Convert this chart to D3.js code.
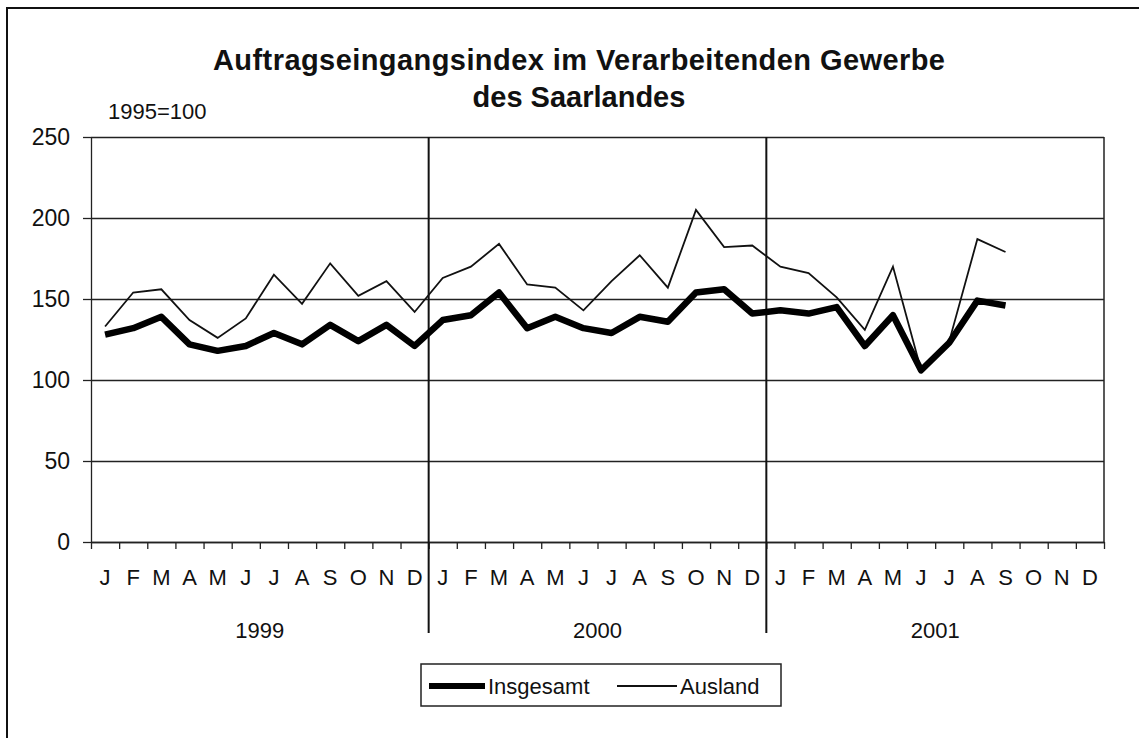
<!DOCTYPE html>
<html>
<head>
<meta charset="utf-8">
<script src="https://cdn.jsdelivr.net/npm/d3@7"></script>
<style>
  body { margin: 0; background: #fff; }
  text { font-family: "Liberation Sans", Arial, sans-serif; fill: #111; }
</style>
</head>
<body>
<div id="chart"></div>
<script>
// data
var months = ["J", "F", "M", "A", "M", "J", "J", "A", "S", "O", "N", "D"];
var years = ["1999", "2000", "2001"];
var yTicks = [0, 50, 100, 150, 200, 250];

// Jan 1999 .. Sep 2001
var insgesamt = [128, 132, 139, 122, 118, 121, 129, 122, 134, 124, 134, 121,
                 137, 140, 154, 132, 139, 132, 129, 139, 136, 154, 156, 141,
                 143, 141, 145, 121, 140, 106, 123, 149, 146];
var ausland = [133, 154, 156, 137, 126, 138, 165, 147, 172, 152, 161, 142,
               163, 170, 184, 159, 157, 143, 161, 177, 157, 205, 182, 183,
               170, 166, 151, 131, 170, 106, 124, 187, 179];

var svgWidth = 1139;
var svgHeight = 738;

var margin = { top: 137, right: 35, bottom: 196, left: 91 };
var width = svgWidth - margin.left - margin.right;
var height = svgHeight - margin.top - margin.bottom;

var svg = d3.select("#chart")
  .append("svg")
  .attr("width", svgWidth)
  .attr("height", svgHeight);

// outer frame (only top and left are in view)
svg.append("path")
  .attr("d", "M7,738 V8 H1139")
  .attr("fill", "none")
  .attr("stroke", "#111")
  .attr("stroke-width", 2);

// titles
svg.append("text")
  .attr("x", 579).attr("y", 70)
  .attr("text-anchor", "middle")
  .attr("font-size", "29px")
  .attr("font-weight", "700")
  .attr("textLength", 732)
  .text("Auftragseingangsindex im Verarbeitenden Gewerbe");

svg.append("text")
  .attr("x", 579).attr("y", 107)
  .attr("text-anchor", "middle")
  .attr("font-size", "29px")
  .attr("font-weight", "700")
  .text("des Saarlandes");

svg.append("text")
  .attr("x", 108).attr("y", 119)
  .attr("font-size", "22px")
  .text("1995=100");

var chartGroup = svg.append("g")
  .attr("transform", `translate(${margin.left}, ${margin.top})`);

// scales
var n = months.length * years.length;
var xBand = d3.scaleBand()
  .domain(d3.range(n))
  .range([0, width]);

var xEdge = d3.scaleLinear()
  .domain([0, n])
  .range([0, width]);

var yScale = d3.scaleLinear()
  .domain([0, 250])
  .range([height, 0]);

// horizontal grid
chartGroup.append("g")
  .attr("class", "grid")
  .call(d3.axisLeft(yScale).tickValues(yTicks).tickSize(-width).tickFormat(""))
  .call(g => g.select(".domain").remove())
  .call(g => g.selectAll("line").attr("stroke", "#222").attr("stroke-width", 1.3));

// y axis with labels
chartGroup.append("g")
  .call(d3.axisLeft(yScale).tickValues(yTicks).tickSize(8).tickSizeOuter(0).tickPadding(13))
  .call(g => g.select(".domain").attr("stroke", "#222").attr("stroke-width", 1.3))
  .call(g => g.selectAll("line").attr("stroke", "#222").attr("stroke-width", 1.3))
  .call(g => g.selectAll("text").attr("font-size", "23px")
    .attr("font-family", "Liberation Sans, Arial, sans-serif").attr("fill", "#111"));

// right border of plot
chartGroup.append("line")
  .attr("x1", width).attr("x2", width)
  .attr("y1", 0).attr("y2", height)
  .attr("stroke", "#222").attr("stroke-width", 1.5);

// month tick marks
chartGroup.append("g")
  .attr("transform", `translate(0, ${height})`)
  .call(d3.axisBottom(xEdge).tickValues(d3.range(n + 1)).tickSize(7).tickSizeOuter(0).tickFormat(""))
  .call(g => g.select(".domain").attr("stroke", "#222").attr("stroke-width", 1.3))
  .call(g => g.selectAll("line").attr("stroke", "#222").attr("stroke-width", 1.3));

// month labels
chartGroup.append("g")
  .attr("transform", `translate(0, ${height})`)
  .call(d3.axisBottom(xBand).tickSize(0).tickPadding(27).tickFormat(i => months[i % 12]))
  .call(g => g.select(".domain").remove())
  .call(g => g.selectAll("text").attr("font-size", "22px")
    .attr("font-family", "Liberation Sans, Arial, sans-serif").attr("fill", "#111"));

// year separators
chartGroup.selectAll(".sep")
  .data([12, 24])
  .enter()
  .append("line")
  .attr("x1", d => xEdge(d)).attr("x2", d => xEdge(d))
  .attr("y1", 0).attr("y2", height + 91)
  .attr("stroke", "#111").attr("stroke-width", 2);

// year labels
chartGroup.selectAll(".year")
  .data(years)
  .enter()
  .append("text")
  .attr("x", (d, i) => (xEdge(i * 12) + xEdge(i * 12 + 12)) / 2)
  .attr("y", height + 96)
  .attr("text-anchor", "middle")
  .attr("font-size", "22px")
  .text(d => d);

// lines
var line = d3.line()
  .x((d, i) => xBand(i) + xBand.bandwidth() / 2)
  .y(d => yScale(d));

chartGroup.append("path")
  .datum(ausland)
  .attr("d", line)
  .attr("fill", "none")
  .attr("stroke", "#111")
  .attr("stroke-width", 1.8)
  .attr("stroke-linejoin", "miter");

chartGroup.append("path")
  .datum(insgesamt)
  .attr("d", line)
  .attr("fill", "none")
  .attr("stroke", "#000")
  .attr("stroke-width", 6.5)
  .attr("stroke-linejoin", "round");

// legend
var legend = svg.append("g")
  .attr("transform", "translate(421, 664)");

legend.append("rect")
  .attr("width", 360).attr("height", 42)
  .attr("fill", "#fff")
  .attr("stroke", "#222").attr("stroke-width", 1.5);

legend.append("line")
  .attr("x1", 8).attr("x2", 64).attr("y1", 22).attr("y2", 22)
  .attr("stroke", "#000").attr("stroke-width", 6);

legend.append("text")
  .attr("x", 67).attr("y", 30)
  .attr("font-size", "22px")
  .text("Insgesamt");

legend.append("line")
  .attr("x1", 196).attr("x2", 256).attr("y1", 22).attr("y2", 22)
  .attr("stroke", "#111").attr("stroke-width", 1.8);

legend.append("text")
  .attr("x", 259).attr("y", 30)
  .attr("font-size", "22px")
  .text("Ausland");
</script>
</body>
</html>
